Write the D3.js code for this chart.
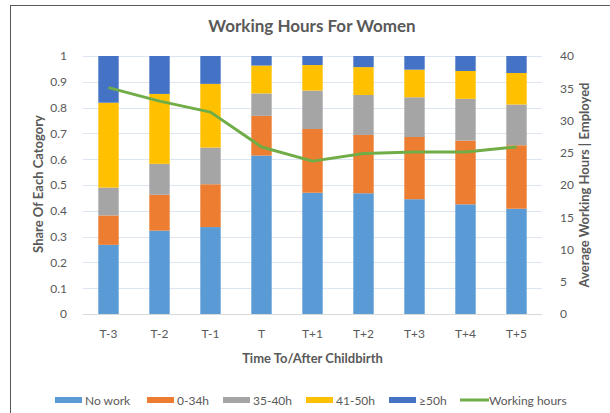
<!DOCTYPE html>
<html lang="en">
<head>
<meta charset="UTF-8">
<title>Working Hours For Women</title>
<script src="https://d3js.org/d3.v7.min.js"></script>
<style>
  body { margin: 0; background: #fff; }
  text { font-family: Lato, "Open Sans", sans-serif; fill: #595959; }
</style>
</head>
<body>
<div id="chart"></div>
<script>
  const width = 610;
  const height = 413;

  // data
  const periods = ["T-3", "T-2", "T-1", "T", "T+1", "T+2", "T+3", "T+4", "T+5"];
  const noWork   = [0.268, 0.323, 0.337, 0.614, 0.470, 0.468, 0.445, 0.425, 0.408];
  const h0to34   = [0.114, 0.139, 0.166, 0.154, 0.247, 0.226, 0.241, 0.247, 0.246];
  const h35to40  = [0.108, 0.120, 0.142, 0.087, 0.149, 0.155, 0.154, 0.162, 0.158];
  const h41to50  = [0.329, 0.271, 0.247, 0.108, 0.099, 0.108, 0.107, 0.108, 0.122];
  const h50plus  = [0.181, 0.147, 0.108, 0.037, 0.035, 0.043, 0.053, 0.058, 0.066];
  const workingHours = [35.1, 33.0, 31.3, 25.9, 23.7, 24.9, 25.1, 25.1, 25.9];
  const leftTicks = [0, 0.1, 0.2, 0.3, 0.4, 0.5, 0.6, 0.7, 0.8, 0.9, 1];
  const rightTicks = [0, 5, 10, 15, 20, 25, 30, 35, 40];

  const seriesKeys = ["No work", "0-34h", "35-40h", "41-50h", "≥50h"];
  const seriesVals = [noWork, h0to34, h35to40, h41to50, h50plus];
  const colors = ["#5b9bd5", "#ed7d31", "#a5a5a5", "#ffc000", "#4472c4"];
  const lineColor = "#70ad47";

  const table = periods.map(function (p, i) {
    const row = { period: p };
    seriesKeys.forEach(function (k, j) { row[k] = seriesVals[j][i]; });
    return row;
  });

  const margin = { top: 56, right: 68, bottom: 99, left: 83 };

  const svg = d3.select("#chart").append("svg")
    .attr("width", width)
    .attr("height", height);

  // outer chart border (only top/left visible in the crop)
  svg.append("rect")
    .attr("x", 10.5).attr("y", 5.5)
    .attr("width", 700).attr("height", 500)
    .attr("fill", "none")
    .attr("stroke", "#595959")
    .attr("stroke-width", 1);

  const x = d3.scaleBand()
    .domain(periods)
    .range([margin.left, width - margin.right])
    .paddingInner(0.6)
    .paddingOuter(0.3);

  const y = d3.scaleLinear()
    .domain([0, 1])
    .range([height - margin.bottom, margin.top]);

  const y2 = d3.scaleLinear()
    .domain([0, 40])
    .range([height - margin.bottom, margin.top]);

  // gridlines
  svg.append("g")
    .selectAll("line")
    .data(leftTicks.slice(1))
    .join("line")
    .attr("x1", margin.left).attr("x2", width - margin.right)
    .attr("y1", function (d) { return Math.round(y(d)) + 0.5; })
    .attr("y2", function (d) { return Math.round(y(d)) + 0.5; })
    .attr("stroke", "#dce5f1")
    .attr("stroke-width", 1);

  const stack = d3.stack().keys(seriesKeys);
  const stacked = stack(table);

  svg.append("g")
    .selectAll("g")
    .data(stacked)
    .join("g")
    .attr("fill", function (d, i) { return colors[i]; })
    .selectAll("rect")
    .data(function (d) { return d; })
    .join("rect")
    .attr("x", function (d) { return x(d.data.period); })
    .attr("width", x.bandwidth())
    .attr("y", function (d) { return y(d[1]); })
    .attr("height", function (d) { return y(d[0]) - y(d[1]); });

  // baseline
  svg.append("line")
    .attr("x1", margin.left).attr("x2", width - margin.right)
    .attr("y1", Math.round(y(0)) + 0.5).attr("y2", Math.round(y(0)) + 0.5)
    .attr("stroke", "#d9d9d9");

  // working hours line
  const line = d3.line()
    .x(function (d, i) { return x(periods[i]) + x.bandwidth() / 2; })
    .y(function (d) { return y2(d); });

  svg.append("path")
    .datum(workingHours)
    .attr("d", line)
    .attr("fill", "none")
    .attr("stroke", lineColor)
    .attr("stroke-width", 3)
    .attr("stroke-linejoin", "round");

  // axes
  const leftAxis = svg.append("g")
    .attr("transform", "translate(" + (margin.left - 13) + ",0)")
    .call(d3.axisLeft(y).tickValues(leftTicks).tickSize(0).tickFormat(d3.format("~g")));
  leftAxis.select(".domain").remove();

  const rightAxis = svg.append("g")
    .attr("transform", "translate(" + (width - margin.right + 15) + ",0)")
    .call(d3.axisRight(y2).tickValues(rightTicks).tickSize(0));
  rightAxis.select(".domain").remove();

  const bottomAxis = svg.append("g")
    .attr("transform", "translate(0," + (height - margin.bottom + 12) + ")")
    .call(d3.axisBottom(x).tickSize(0));
  bottomAxis.select(".domain").remove();

  svg.selectAll(".tick text")
    .style("font-family", "Lato, sans-serif")
    .style("font-size", "12px")
    .attr("fill", "#595959");

  // titles
  svg.append("text")
    .attr("x", 312).attr("y", 32)
    .attr("text-anchor", "middle")
    .style("font-size", "17px")
    .style("font-weight", "bold")
    .text("Working Hours For Women");

  svg.append("text")
    .attr("transform", "translate(43,184) rotate(-90)")
    .attr("text-anchor", "middle")
    .style("font-size", "13px")
    .style("font-weight", "bold")
    .text("Share Of Each Catogory");

  svg.append("text")
    .attr("transform", "translate(589,185) rotate(-90)")
    .attr("text-anchor", "middle")
    .style("font-size", "13px")
    .style("font-weight", "bold")
    .text("Average Working Hours | Employed");

  svg.append("text")
    .attr("x", (margin.left + width - margin.right) / 2).attr("y", 363)
    .attr("text-anchor", "middle")
    .style("font-size", "13px")
    .style("font-weight", "bold")
    .text("Time To/After Childbirth");

  // legend
  const legendItems = seriesKeys.map(function (k, i) {
    return { name: k, color: colors[i], type: "rect" };
  }).concat([{ name: "Working hours", color: lineColor, type: "line" }]);
  const legendX = [55, 147, 223, 306, 389, 460];

  const legend = svg.append("g")
    .selectAll("g")
    .data(legendItems)
    .join("g")
    .attr("transform", function (d, i) { return "translate(" + legendX[i] + ",400)"; });

  legend.filter(function (d) { return d.type === "rect"; })
    .append("rect")
    .attr("x", 0).attr("y", -3)
    .attr("width", 27).attr("height", 6)
    .attr("fill", function (d) { return d.color; });

  legend.filter(function (d) { return d.type === "line"; })
    .append("line")
    .attr("x1", 0).attr("x2", 29)
    .attr("y1", 0).attr("y2", 0)
    .attr("stroke", function (d) { return d.color; })
    .attr("stroke-width", 3);

  legend.append("text")
    .attr("x", function (d) { return d.type === "line" ? 29 : 30; })
    .attr("y", 4.5)
    .style("font-size", "12px")
    .text(function (d) { return d.name; });
</script>
</body>
</html>
